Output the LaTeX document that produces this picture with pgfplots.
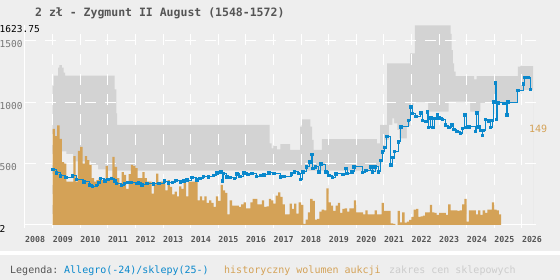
\documentclass[border=0pt]{standalone}
\usepackage{pgfplots}
\pgfplotsset{compat=1.18}
\usepackage{fontspec}
\setmainfont{DejaVu Sans Mono}

\definecolor{bg}{HTML}{EEEEEE}
\definecolor{band}{HTML}{D3D3D3}
\definecolor{vol}{HTML}{D4A257}
\definecolor{price}{HTML}{0A88CC}
\definecolor{txt}{HTML}{555555}
\definecolor{ylab}{HTML}{777777}
\definecolor{leggray}{HTML}{CCCCCC}

% monthly auction volume, month 0 = January 2009
\pgfplotstableread{
m v
0 144
1 133
2 149
3 129
4 94
5 92
6 65
7 65
8 65
9 103
10 65
11 111
12 117
13 92
14 103
15 97
16 90
17 70
18 65
19 67
20 70
21 67
22 67
23 88
24 67
25 72
26 102
27 87
28 70
29 60
30 79
31 75
32 54
33 76
34 90
35 88
36 85
37 70
38 70
39 79
40 70
41 65
42 65
43 47
44 61
45 77
46 61
47 65
48 62
49 52
50 67
51 57
52 46
53 50
54 43
55 58
56 54
57 67
58 43
59 65
60 65
61 65
62 65
63 37
64 43
65 37
66 43
67 33
68 37
69 33
70 27
71 43
72 36
73 60
74 52
75 48
76 16
77 37
78 29
79 29
80 29
81 27
82 31
83 34
84 25
85 25
86 34
87 39
88 39
89 31
90 31
91 37
92 27
93 28
94 39
95 37
96 32
97 44
98 49
99 42
100 31
101 16
102 16
103 32
104 24
105 32
106 17
107 34
108 30
109 1.5
110 8
111 19
112 39
113 36
114 8
115 9
116 20
117 23
118 22
119 55
120 34
121 29
122 21
123 29
124 33
125 18
126 24
127 25
128 20
129 25
130 25
131 37
132 19
133 19
134 19
135 16
136 22
137 16
138 16
139 16
140 22
141 16
142 16
143 33
144 21
145 21
146 21
147 2.5
148 1.5
149 0
150 21
151 4
152 19
153 3.5
154 5
155 7.5
156 12
157 23
158 24
159 12
160 13
161 14
162 19
163 19
164 30
165 19
166 18
167 15
168 18
169 18
170 18
171 15
172 31
173 22
174 22
175 22
176 21
177 22
178 31
179 39
180 5
181 22
182 22
183 22
184 16
185 22
186 15
187 22
188 18
189 23
190 23
191 34
192 23
193 22
194 16
195 16
}\volume

\pgfplotsset{
  frame/.style={
    scale only axis, width=510.6pt, height=199.5pt,
    at={(25pt,-225pt)}, anchor=south west,
    xmin=2008, xmax=2026.5,
  },
}

\begin{document}
\begin{tikzpicture}
\fill[bg] (0pt,0pt) rectangle (560pt,-280pt);
\useasboundingbox (0pt,0pt) rectangle (560pt,-280pt);
\fill[white] (0pt,-251.5pt) rectangle (560pt,-255.5pt);

% shop price range and grid
\begin{axis}[frame, ymin=2, ymax=1623.75,
  axis on top,
  axis x line*=bottom, axis y line*=left,
  axis line style={white, line width=1pt, -},
  tick align=outside, major tick length=3pt,
  xtick style={white, line width=1pt},
  ytick style={draw=none},
  xtick={2008,2009,2010,2011,2012,2013,2014,2015,2016,2017,2018,2019,2020,2021,2022,2023,2024,2025,2026},
  xticklabels={2008,2009,2010,2011,2012,2013,2014,2015,2016,2017,2018,2019,2020,2021,2022,2023,2024,2025,2026},
  xticklabel style={anchor=north west, inner sep=0pt, yshift=-8pt,
    font=\fontsize{8.3}{9}\selectfont\bfseries, text=txt},
  ytick={500,1000,1500}, yticklabels={500,1000,1500},
  extra y ticks={2,1623.75}, extra y tick labels={2,1623.75},
  extra y tick style={grid=none, yticklabel style={text=black}},
  yticklabel style={anchor=north west, inner sep=0pt, xshift=-22.5pt,
    font=\fontsize{9.5}{10}\selectfont, text=ylab},
  xmajorgrids, ymajorgrids,
  major x grid style={white, line width=1pt, dash pattern=on 11pt off 9pt},
  major y grid style={white, line width=1pt, dash pattern=on 11pt off 9pt},
]
\addplot[fill=band, draw=none, const plot] coordinates {
(2009.0,1132) (2009.04,1216) (2009.2,1281) (2009.25,1302) (2009.34,1281)
(2009.4,1240) (2009.45,1216) (2011.25,1105) (2011.31,910) (2011.34,815)
(2016.86,666) (2016.94,625) (2017.0,644) (2017.13,617) (2017.25,660)
(2017.61,612) (2017.97,801) (2018.04,861) (2018.34,801) (2018.4,693)
(2018.46,612) (2018.76,701) (2020.75,666) (2020.87,815) (2021.12,1316)
(2021.95,1397) (2022.13,1623.75) (2023.42,1555) (2023.46,1424) (2023.5,1316)
(2023.55,1248) (2023.6,1213) (2024.27,1186) (2024.36,1213) (2025.86,1289)
(2025.95,1294) (2026.41,1294)
} \closedcycle;
\addplot[fill=bg, draw=none, const plot] coordinates {
(2009.0,600) (2009.5,579) (2009.74,520) (2010.4,490) (2010.65,454)
(2011.0,445) (2020.75,476) (2020.87,503) (2020.94,612) (2021.04,693)
(2021.19,815) (2021.31,869) (2021.37,828) (2021.49,774) (2021.56,706)
(2021.84,807) (2021.96,977) (2022.08,1000) (2022.61,923) (2023.35,1004)
(2024.13,923) (2024.5,995) (2025.85,1099) (2026.41,1099)
} \closedcycle;
\end{axis}

% auction volume
\begin{axis}[frame, xmin=-12, xmax=210, ymin=0, ymax=298.7, hide axis]
\addplot[fill=vol, draw=none, const plot mark left] table[x=m, y=v] {\volume} \closedcycle;
\end{axis}

% Allegro / shop price
\begin{axis}[frame, ymin=2, ymax=1623.75, hide axis, clip=false]
\addplot[price, line width=0.9pt, const plot, mark=square*, mark size=1.3pt,
  mark options={solid, fill=price, draw=price, line width=0.4pt}] coordinates {
(2009.0,454) (2009.13,427) (2009.28,403) (2009.47,389) (2009.71,403)
(2009.86,373) (2010.12,354) (2010.32,332) (2010.44,319) (2010.58,327)
(2010.66,349) (2010.73,381) (2010.88,362) (2011.0,373) (2011.13,381)
(2011.25,362) (2011.31,341) (2011.48,327) (2011.6,341) (2011.73,351)
(2011.85,349) (2012.03,341) (2012.1,346) (2012.22,332) (2012.4,341)
(2012.65,338) (2012.85,341) (2013.05,360) (2013.19,346) (2013.34,351)
(2013.46,365) (2013.62,354) (2013.74,360) (2013.86,368) (2014.04,392)
(2014.22,370) (2014.34,381) (2014.46,400) (2014.64,395) (2014.82,406)
(2014.94,427) (2015.1,433) (2015.15,360) (2015.18,422) (2015.3,395)
(2015.43,389) (2015.58,381) (2015.66,417) (2015.78,400) (2015.92,427)
(2016.07,414) (2016.21,422) (2016.38,400) (2016.53,406) (2016.65,411)
(2016.84,427) (2017.01,422) (2017.25,395) (2017.37,400) (2017.64,417)
(2017.76,436) (2017.9,422) (2017.97,373) (2018.07,436) (2018.19,476)
(2018.31,517) (2018.38,579) (2018.43,463) (2018.52,476) (2018.65,436)
(2018.72,498) (2018.89,436) (2019.01,408) (2019.13,389) (2019.25,417)
(2019.5,414) (2019.62,463) (2019.68,422) (2019.83,436) (2019.92,476)
(2020.22,430) (2020.34,449) (2020.52,476) (2020.58,436) (2020.68,476)
(2020.8,436) (2020.88,530) (2020.94,598) (2021.03,633) (2021.1,725)
(2021.25,492) (2021.33,552) (2021.37,603) (2021.52,679) (2021.61,801)
(2021.89,855) (2021.97,964) (2022.03,910) (2022.15,888) (2022.33,915)
(2022.39,855) (2022.51,847) (2022.57,923) (2022.61,796) (2022.69,872)
(2022.78,796) (2022.85,869) (2022.93,901) (2022.99,874) (2023.11,861)
(2023.23,815) (2023.35,796) (2023.45,815) (2023.53,780) (2023.65,766)
(2023.77,747) (2023.84,788) (2023.93,901) (2023.98,796) (2024.07,801)
(2024.31,766) (2024.37,915) (2024.44,801) (2024.5,774) (2024.56,731)
(2024.59,774) (2024.68,861) (2024.78,850) (2024.86,796) (2024.92,855)
(2024.98,1006) (2025.04,1159) (2025.07,861) (2025.13,998) (2025.34,991)
(2025.46,901) (2025.49,1002) (2025.85,1099) (2026.05,1153) (2026.11,1202)
(2026.23,1202) (2026.3,1105)
};
\end{axis}

\node[anchor=base west, inner sep=0pt, text=txt, font=\fontsize{11.5}{12}\selectfont\bfseries]
  at (35pt,-16.5pt) {2 zł - Zygmunt II August (1548-1572)};
\node[anchor=west, inner sep=0pt, text=vol, font=\fontsize{10}{12}\selectfont]
  at (529pt,-129pt) {149};

\begin{scope}[every node/.style={anchor=base west, inner sep=0pt, font=\fontsize{10}{12}\selectfont}]
\node[text=txt] at (10pt,-274pt) {Legenda:};
\node[text=price] at (64pt,-274pt) {Allegro(-24)/sklepy(25-)};
\node[text=vol] at (224pt,-274pt) {historyczny wolumen aukcji};
\node[text=leggray] at (389pt,-274pt) {zakres cen sklepowych};
\end{scope}
\end{tikzpicture}
\end{document}
